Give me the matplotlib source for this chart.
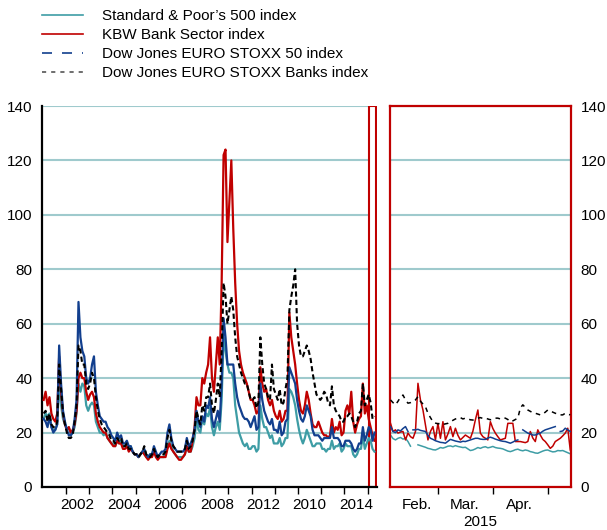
import matplotlib
matplotlib.use('Agg')
import matplotlib.pyplot as plt
from matplotlib.lines import Line2D
from matplotlib.patches import Rectangle
import numpy as np
import pandas as pd

plt.rcParams['font.family'] = ['Liberation Sans', 'DejaVu Sans']
plt.rcParams['font.size'] = 11

# monthly implied volatility, Jan 2001 - Apr 2015
sp500 = [25, 27, 26, 27, 22, 21, 21, 23, 38, 30, 25, 23,
         21, 22, 19, 20, 22, 27, 38, 35, 38, 37, 30, 28,
         30, 31, 30, 24, 22, 20, 20, 19, 20, 18, 17, 16,
         16, 15, 17, 16, 17, 15, 15, 16, 14, 15, 13, 12,
         12, 11, 12, 13, 13, 11, 11, 12, 12, 14, 12, 11,
         11, 11, 11, 12, 15, 17, 15, 13, 12, 11, 11, 11,
         11, 12, 15, 13, 13, 15, 18, 25, 21, 20, 25, 23,
         27, 26, 29, 22, 19, 22, 24, 21, 32, 55, 50, 45,
         42, 42, 40, 30, 25, 20, 18, 16, 15, 16, 14, 14,
         15, 15, 13, 14, 30, 25, 22, 22, 20, 18, 19, 16,
         16, 16, 18, 15, 16, 18, 18, 36, 35, 33, 30, 25,
         21, 18, 16, 18, 21, 19, 17, 15, 15, 16, 16, 16,
         14, 14, 13, 14, 14, 17, 14, 15, 15, 16, 13, 14,
         16, 15, 15, 15, 12, 11, 12, 14, 14, 19, 14, 16,
         18, 17, 14, 13]
kbw = [32, 35, 30, 33, 27, 25, 24, 27, 48, 35, 27, 23,
       21, 22, 20, 21, 23, 28, 40, 42, 40, 40, 35, 32,
       34, 35, 33, 27, 24, 22, 21, 20, 20, 18, 17, 16,
       15, 15, 17, 16, 16, 14, 14, 15, 13, 14, 13, 12,
       12, 11, 12, 13, 12, 11, 10, 11, 11, 13, 11, 10,
       11, 11, 11, 11, 14, 16, 14, 13, 12, 11, 10, 10,
       11, 12, 15, 13, 13, 17, 22, 33, 30, 30, 40, 38,
       42, 45, 55, 40, 35, 45, 55, 45, 75, 122, 124, 90,
       105, 120, 95, 75, 60, 50, 45, 42, 40, 38, 35, 32,
       32, 30, 27, 28, 44, 38, 35, 36, 32, 30, 32, 28,
       26, 25, 28, 24, 25, 28, 28, 64, 55, 50, 45, 38,
       32, 28, 27, 30, 35, 32, 27, 23, 22, 22, 24, 22,
       20, 19, 19, 18, 19, 25, 20, 22, 21, 24, 19, 20,
       28, 30, 27, 35, 24, 20, 23, 25, 26, 38, 27, 30,
       25, 22, 19, 17]
stoxx50 = [25, 24, 22, 26, 22, 20, 21, 23, 52, 38, 28, 24,
           21, 19, 19, 20, 25, 32, 68, 55, 50, 48, 40, 38,
           40, 45, 48, 35, 30, 26, 25, 24, 24, 22, 21, 19,
           18, 17, 20, 18, 19, 16, 16, 17, 15, 15, 13, 12,
           12, 11, 12, 13, 14, 12, 11, 12, 12, 15, 13, 11,
           12, 13, 13, 14, 20, 23, 18, 15, 14, 13, 13, 13,
           13, 14, 18, 15, 16, 18, 21, 28, 24, 22, 26, 24,
           30, 29, 33, 25, 22, 25, 28, 24, 38, 62, 55, 45,
           45, 45, 45, 38, 33, 30, 28, 26, 25, 25, 24, 22,
           24, 26, 21, 22, 38, 32, 28, 26, 24, 23, 25, 21,
           21, 20, 24, 19, 20, 24, 25, 44, 42, 40, 38, 32,
           28, 25, 24, 26, 30, 28, 26, 21, 19, 19, 19, 18,
           17, 18, 18, 18, 18, 22, 18, 18, 18, 17, 15, 15,
           17, 17, 17, 16, 14, 13, 14, 16, 16, 22, 17, 19,
           22, 21, 17, 20]
stoxx_banks = [27, 28, 24, 27, 23, 22, 22, 24, 45, 36, 27, 23,
               20, 18, 18, 19, 24, 30, 52, 50, 45, 45, 38, 36,
               38, 42, 40, 33, 28, 25, 23, 22, 21, 20, 19, 17,
               17, 16, 18, 17, 18, 15, 15, 16, 14, 14, 13, 12,
               12, 11, 12, 13, 15, 12, 11, 11, 12, 14, 12, 11,
               12, 12, 12, 13, 18, 21, 17, 15, 14, 13, 13, 13,
               13, 14, 17, 14, 15, 17, 21, 28, 25, 23, 30, 28,
               33, 33, 38, 30, 27, 32, 38, 33, 50, 75, 70, 60,
               65, 70, 65, 55, 48, 45, 42, 40, 38, 38, 35, 32,
               32, 33, 29, 31, 55, 45, 38, 36, 33, 32, 45, 36,
               34, 32, 36, 30, 31, 36, 40, 65, 70, 74, 80, 60,
               52, 48, 48, 50, 52, 50, 47, 42, 38, 34, 33, 32,
               33, 35, 34, 31, 30, 37, 30, 28, 27, 26, 24, 24,
               26, 26, 27, 26, 24, 22, 24, 27, 28, 38, 30, 32,
               34, 31, 25, 26]

# business days, 3 Feb 2015 - 14 May 2015 (nan = gap in the series)
nan = np.nan
sp500_d = [19.1, 17.8, 17.3, 17.9, 18.2, 17.6, 17.9, 16.7, 15.0, nan,
           nan, 15.5, 15.2, 14.9, 14.6, 14.2, 14.0, 13.7, 13.6, 14.0,
           14.5, 14.3, 14.6, 15.0, 15.1, 14.8, 15.2, 14.9, 14.7, 14.5,
           14.6, 14.0, 13.4, 13.6, 14.0, 14.5, 14.2, 14.6, 14.8, 14.4,
           14.6, 14.9, 14.5, 14.3, 14.2, 14.0, 13.6, 13.2, 13.0, 13.3,
           13.7, 13.9, 13.5, 13.3, 13.6, 13.4, 13.0, 12.8, 12.5, 12.4,
           12.8, 13.2, 13.5, 13.6, 13.2, 12.9, 13.0, 13.4, 13.3, 13.4,
           13.0, 12.6, 12.2]
kbw_d = [23.4, 20.4, 21.0, 19.8, 20.2, 20.4, 17.3, 19.8, 18.5, 17.9,
         20.4, 38.1, 32.0, 28.3, 22.8, 17.3, 20.4, 22.2, 17.3, 23.4,
         17.9, 24.0, 17.3, 19.5, 22.2, 18.5, 21.6, 19.0, 17.3, 18.2,
         19.1, 18.5, 17.9, 20.5, 24.7, 28.3, 19.8, 18.5, 17.9, 17.3,
         24.0, 21.5, 19.8, 18.5, 17.3, 17.6, 17.9, 23.4, 23.4, 23.4,
         16.7, 16.7, 16.7, 16.5, 16.3, 16.7, 20.4, 18.0, 16.7, 21.0,
         19.1, 17.5, 16.7, 15.5, 14.2, 15.0, 16.7, 17.3, 17.9, 18.8,
         19.8, 21.6, 13.6]
stoxx50_d = [22.2, 20.4, 20.0, 21.0, 20.6, 21.5, 22.2, 20.4, nan, 21.0,
             21.0, 21.2, 20.8, 20.6, 20.4, 19.0, 17.9, 17.5, 17.0, 16.7,
             16.4, 16.3, 16.1, 16.8, 17.5, 17.2, 16.9, 16.7, 16.5, 16.8,
             16.7, 17.0, 17.3, 17.6, 17.9, 17.9, 17.6, 17.5, 17.5, 18.0,
             18.3, 18.0, 17.6, 17.3, 17.0, 16.8, 16.7, 16.4, 16.1, 16.5,
             17.0, 17.3, nan, 21.0, 20.4, 19.8, 19.5, 19.1, 19.1, 19.5,
             19.8, 20.5, 21.0, 21.3, 21.6, 21.9, 22.2, nan, 20.4, 20.6,
             21.6, 21.0, 20.4]
stoxx_banks_d = [32.0, 31.0, 30.2, 31.5, 33.0, 33.8, 32.0, 30.8, 31.0, 31.5,
                 32.0, 33.2, 31.5, 30.5, 29.5, 27.1, 25.5, 24.0, 23.5, 23.2,
                 23.4, 23.0, 23.2, 23.4, 24.0, 24.5, 25.0, 25.3, 25.5, 25.0,
                 25.3, 25.0, 24.7, 24.6, 25.0, 25.3, 25.5, 25.2, 25.3, 25.0,
                 24.7, 25.0, 25.3, 25.3, 25.0, 25.3, 25.3, 24.8, 24.0, 24.3,
                 24.8, 25.3, 29.0, 30.2, 29.2, 28.3, 27.8, 27.3, 27.1, 26.8,
                 26.5, 26.8, 27.5, 28.3, 28.0, 27.5, 27.1, 26.8, 26.5, 26.5,
                 27.1, 26.8, 26.5]

series_labels = ["Standard & Poor\u2019s 500 index", "KBW Bank Sector index",
                 "Dow Jones EURO STOXX 50 index", "Dow Jones EURO STOXX Banks index"]
year_labels = ['2002', '2004', '2006', '2008', '2012', '2010', '2014']
month_labels = ['Feb.', 'Mar.', 'Apr.']

TEAL = '#3E9DA5'
RED = '#C00000'
BLUE = '#123F8E'
GRID = '#9FCACD'

fig = plt.figure(figsize=(6.07, 5.30), dpi=100)
ax1 = fig.add_axes([42/607, 43/530, 335/607, 381/530])
ax2 = fig.add_axes([390/607, 43/530, 181/607, 381/530])

# left panel: long history
t = 2001 + (np.arange(len(sp500)) + 0.5) / 12
ax1.plot(t, sp500, color=TEAL, lw=1.6, zorder=2)
ax1.plot(t, kbw, color=RED, lw=1.6, zorder=3)
ax1.plot(t, stoxx50, color=BLUE, lw=1.6, zorder=4)
ax1.plot(t, stoxx_banks, color='black', lw=1.5, dashes=(2.5, 1.5), zorder=5)

ax1.add_patch(Rectangle((2015.07, 0), 0.29, 140, facecolor='white',
                        edgecolor=RED, lw=1.5, zorder=1.5))

ax1.set_xlim(2000.97, 2015.40)
ax1.set_ylim(0, 140)
ax1.set_yticks(range(0, 141, 20))
ax1.grid(axis='y', color=GRID, lw=1.5, zorder=0)
ax1.set_axisbelow(True)
ax1.set_xticks(range(2002, 2016))
ax1.set_xticklabels([])
ax1.set_xticks(np.arange(2002, 2015, 2) + 0.5, minor=True)
ax1.set_xticklabels(year_labels, minor=True)
ax1.tick_params(axis='x', which='major', length=5, width=1, direction='out')
ax1.tick_params(axis='x', which='minor', length=0, pad=8, labelsize=11)
ax1.tick_params(axis='y', length=0, pad=7, labelsize=11)
for side in ['top', 'right']:
    ax1.spines[side].set_visible(False)
for side in ['left', 'bottom']:
    ax1.spines[side].set_linewidth(1.6)

# right panel: recent months
dates = pd.bdate_range('2015-02-03', periods=len(sp500_d))
x = np.arange(len(dates))
ax2.plot(x, sp500_d, color=TEAL, lw=1.1, zorder=2)
ax2.plot(x, kbw_d, color=RED, lw=1.1, zorder=3)
ax2.plot(x, stoxx50_d, color=BLUE, lw=1.1, zorder=4)
ax2.plot(x, stoxx_banks_d, color='black', lw=1.1, dashes=(3, 3), zorder=5)

month_start = [i for i in range(1, len(dates)) if dates[i].month != dates[i - 1].month]
ax2.set_xlim(-0.2, 72.3)
ax2.set_ylim(0, 140)
ax2.set_yticks(range(0, 141, 20))
ax2.grid(axis='y', color=GRID, lw=1.5, zorder=0)
ax2.set_xticks(month_start)
ax2.set_xticklabels([])
ax2.set_xticks([0 + 10.5] + [m + 10.5 for m in month_start[:2]], minor=True)
ax2.set_xticklabels(month_labels, minor=True)
ax2.tick_params(axis='x', which='major', length=5, width=1, direction='out')
ax2.tick_params(axis='x', which='minor', length=0, pad=8, labelsize=11)
ax2.yaxis.tick_right()
ax2.tick_params(axis='y', length=0, pad=7, labelsize=11)
ax2.set_xlabel('2015', fontsize=11, labelpad=2)
for side in ax2.spines:
    ax2.spines[side].set_color(RED)
    ax2.spines[side].set_linewidth(1.6)

handles = [Line2D([], [], color=TEAL, lw=1.2),
           Line2D([], [], color=RED, lw=1.2),
           Line2D([], [], color=BLUE, lw=1.2, dashes=(6, 6)),
           Line2D([], [], color='#555555', lw=1.2, dashes=(2.5, 3))]
fig.legend(handles, series_labels, loc='upper left', bbox_to_anchor=(42/607, 1 - 9/530),
           frameon=False, borderpad=0, borderaxespad=0, handlelength=2.7,
           handletextpad=1.25, labelspacing=0.33, fontsize=11)

fig.savefig('out.png', dpi=100)
